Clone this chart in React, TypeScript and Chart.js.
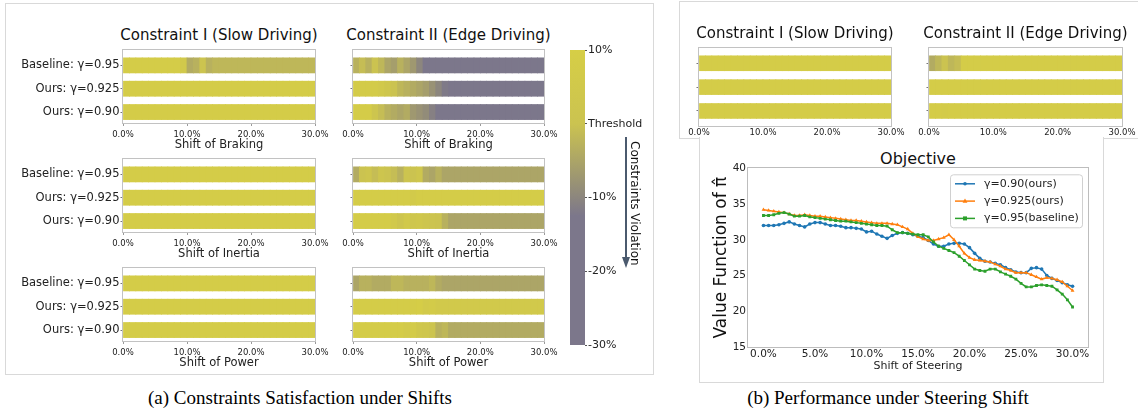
import React, { useEffect, useRef } from 'react';
import { Chart, registerables } from 'chart.js';

Chart.register(...registerables);
Chart.defaults.font.family = 'DejaVu Sans';
Chart.defaults.color = '#222';

// ---------------- DATA ----------------
const ROW_LABELS = ['Baseline: γ=0.95', 'Ours: γ=0.925', 'Ours: γ=0.90'];
const STRIP_TICKS = [0, 10, 20, 30];
const SHIFT_BINS = [0, 1, 2, 3, 4, 5, 6, 7, 8, 9, 10, 11, 12, 13, 14, 15, 16, 17, 18, 19, 20, 21, 22, 23, 24, 25, 26, 27, 28, 29];
const BIN_WIDTH = 1;

// constraint margin (%) per 1% shift bin; >0 satisfied, <0 violated
const SAFE_ROW = [8, 8, 8, 8, 8, 8, 8, 8, 8, 8, 8, 8, 8, 8, 8, 8, 8, 8, 8, 8, 8, 8, 8, 8, 8, 8, 8, 8, 8, 8];
const BRAKING_I_BASE = [8, 8, 8, 8, 8, 8, 8, 8, 8, 5, -4, -3, 1, -3, -2, -2, -2, -2, -2, -2, -2, -2, -2, -2, -2, -2, -2, -2, -2, -2];
const BRAKING_II_BASE = [-3, -1, -3, 0, -2, -5, -6, -3, -5, -7, -10, -20, -20, -20, -20, -20, -20, -20, -20, -20, -20, -20, -20, -20, -20, -20, -20, -20, -20, -20];
const BRAKING_II_925 = [7, 7, 7, 7, 5, 3, 0, -2, -3, -4, -5, -6, -8, -10, -12, -20, -20, -20, -20, -20, -20, -20, -20, -20, -20, -20, -20, -20, -20, -20];
const BRAKING_II_90 = [8, 8, 8, 2, -1, -3, -4, -5, -4, -7, -8, -9, -11, -20, -20, -20, -20, -20, -20, -20, -20, -20, -20, -20, -20, -20, -20, -20, -20, -20];
const INERTIA_II_BASE = [-4, 0, 2, -1, 2, 0, -1, -3, 1, 0, 3, -4, -5, -3, -5, -5, -5, -5, -5, -5, -5, -5, -5, -5, -5, -5, -5, -5, -5, -5];
const INERTIA_II_925 = [8, 8, 8, 8, 8, 8, 8, 8, 8, 6, 8, 8, 8, 8, 8, 8, 8, 8, 8, 8, 8, 8, 8, 8, 8, 8, 8, 8, 8, 8];
const INERTIA_II_90 = [8, 8, 8, 8, 8, 8, 5, 2, 5, 3, 4, 2, 1, 0, -3, -5, -5, -5, -5, -5, -5, -5, -5, -5, -5, -5, -5, -5, -5, -5];
const POWER_II_BASE = [-5, -3, -3, -4, -4, -4, -2, -2, -3, -3, -3, -3, -2, -4, -5, -5, -5, -5, -5, -5, -5, -5, -5, -5, -5, -5, -5, -5, -5, -5];
const POWER_II_925 = [8, 8, 8, 8, 8, 8, 8, 8, 8, 8, 9, 6, 7, 5, 5, 5, 5, 5, 5, 5, 5, 5, 5, 5, 5, 5, 5, 5, 5, 5];
const POWER_II_90 = [8, 8, 8, 8, 8, 8, 8, 8, 6, 7, 4, 3, 1, -3, -2, -4, -4, -4, -4, -4, -4, -4, -4, -4, -4, -4, -4, -4, -4, -4];
const STEER_II_BASE = [-4, -2, 0, -2, -1, 8, 8, 8, 8, 8, 8, 8, 8, 8, 8, 8, 8, 8, 8, 8, 8, 8, 8, 8, 8, 8, 8, 8, 8, 8];
const STEER_II_90 = [8, 8, 7, 8, 8, 8, 8, 8, 8, 8, 8, 8, 8, 8, 8, 8, 8, 8, 8, 8, 8, 8, 8, 8, 8, 8, 8, 8, 8, 8];

const CBAR_MIN = -30;
const CBAR_MAX = 10;
const CBAR_TICKS = [10, 0, -10, -20, -30];

const STEER_SHIFT = [0, 0.5, 1, 1.5, 2, 2.5, 3, 3.5, 4, 4.5, 5, 5.5, 6, 6.5, 7, 7.5, 8, 8.5, 9, 9.5, 10, 10.5, 11, 11.5, 12, 12.5, 13, 13.5, 14, 14.5, 15, 15.5, 16, 16.5, 17, 17.5, 18, 18.5, 19, 19.5, 20, 20.5, 21, 21.5, 22, 22.5, 23, 23.5, 24, 24.5, 25, 25.5, 26, 26.5, 27, 27.5, 28, 28.5, 29, 29.5, 30];
const STEER_TICKS = [0, 5, 10, 15, 20, 25, 30];
const VF_TICKS = [15, 20, 25, 30, 35, 40];
const VF_090 = [32.0, 32.0, 32.0, 32.1, 32.3, 32.5, 32.2, 32.0, 31.8, 32.2,
  32.4, 32.4, 32.2, 32.0, 32.0, 31.9, 31.7, 31.7, 31.6, 31.5,
  31.1, 31.2, 30.8, 30.5, 30.2, 30.6, 30.9, 31.0, 30.9, 30.7,
  30.5, 30.3, 29.9, 29.4, 29.1, 29.1, 29.4, 29.5, 29.5, 29.4,
  28.9, 28.1, 27.4, 27.0, 26.9, 26.7, 26.5, 26.1, 25.8, 25.5,
  25.4, 25.4, 26.0, 26.1, 25.9, 25.0, 24.6, 24.3, 24.0, 23.7, 23.5];
const VF_0925 = [34.2, 34.1, 34.0, 33.9, 33.8, 33.6, 33.4, 33.4, 33.5, 33.4,
  33.3, 33.3, 33.2, 33.1, 33.0, 32.9, 32.8, 32.7, 32.7, 32.6,
  32.5, 32.4, 32.3, 32.3, 32.3, 32.2, 32.1, 31.8, 31.5, 30.9,
  30.4, 30.1, 29.9, 29.9, 30.1, 30.3, 30.7, 30.0, 29.1, 28.1,
  27.5, 27.2, 27.1, 27.0, 26.9, 26.6, 26.3, 25.9, 25.7, 25.4,
  25.4, 25.4, 25.1, 24.8, 24.5, 24.7, 24.6, 24.4, 24.1, 23.5, 22.9];
const VF_095 = [33.4, 33.4, 33.5, 33.7, 33.8, 33.6, 33.3, 33.3, 33.4, 33.2,
  33.1, 33.0, 32.9, 32.8, 32.7, 32.6, 32.6, 32.5, 32.4, 32.3,
  32.2, 32.1, 32.0, 32.0, 31.9, 31.4, 31.0, 31.0, 30.9, 30.8,
  30.7, 30.7, 30.4, 29.7, 29.1, 28.8, 28.5, 28.2, 27.7, 27.1,
  26.5, 25.9, 25.7, 25.6, 25.9, 25.9, 25.5, 25.2, 24.9, 24.5,
  23.9, 23.4, 23.4, 23.6, 23.7, 23.6, 23.5, 23.0, 22.4, 21.6, 20.6];

// ---------------- STYLE HELPERS ----------------
const CMAP_STOPS: [number, number[]][] = [
  [-30, [124, 119, 139]],
  [-12.5, [124, 119, 139]],
  [-10, [140, 134, 126]],
  [0, [203, 195, 80]],
  [10, [214, 206, 70]],
];

function cmap(v: number): string {
  const s = CMAP_STOPS;
  if (v <= s[0][0]) return `rgb(${s[0][1].join(',')})`;
  for (let i = 1; i < s.length; i++) {
    if (v <= s[i][0]) {
      const t = (v - s[i - 1][0]) / (s[i][0] - s[i - 1][0]);
      const c = s[i - 1][1].map((a, k) => Math.round(a + (s[i][1][k] - a) * t));
      return `rgb(${c.join(',')})`;
    }
  }
  return `rgb(${s[s.length - 1][1].join(',')})`;
}

const framePlugin = {
  id: 'frame',
  afterDatasetsDraw(chart: any, _a: any, opts: any) {
    const { ctx, chartArea: a } = chart;
    ctx.save();
    ctx.strokeStyle = (opts && opts.color) || '#bdbdbd';
    ctx.lineWidth = 1;
    const l = Math.round(a.left) - 0.5;
    const t = Math.round(a.top) - 0.5;
    ctx.strokeRect(l, t, Math.round(a.right) + 0.5 - l, Math.round(a.bottom) + 0.5 - t);
    ctx.restore();
  },
};

function drawMarker(ctx: CanvasRenderingContext2D, style: string, x: number, y: number, r: number) {
  ctx.beginPath();
  if (style === 'triangle') {
    ctx.moveTo(x, y - r * 1.2);
    ctx.lineTo(x + r * 1.1, y + r * 0.8);
    ctx.lineTo(x - r * 1.1, y + r * 0.8);
    ctx.closePath();
  } else if (style === 'rect') {
    ctx.rect(x - r, y - r, 2 * r, 2 * r);
  } else {
    ctx.arc(x, y, r, 0, Math.PI * 2);
  }
  ctx.fill();
}

const legendPlugin = {
  id: 'mplLegend',
  afterDatasetsDraw(chart: any) {
    const { ctx, chartArea } = chart;
    const w = 132;
    const h = 53;
    const x0 = chartArea.right - 6 - w;
    const y0 = chartArea.top + 6;
    ctx.save();
    ctx.fillStyle = 'rgba(255,255,255,0.85)';
    ctx.strokeStyle = '#d0d0d0';
    ctx.lineWidth = 1;
    ctx.beginPath();
    (ctx as any).roundRect(x0 + 0.5, y0 + 0.5, w, h, 3);
    ctx.fill();
    ctx.stroke();
    chart.data.datasets.forEach((ds: any, i: number) => {
      const y = y0 + 9.5 + i * 17.3;
      ctx.strokeStyle = ds.borderColor;
      ctx.fillStyle = ds.borderColor;
      ctx.lineWidth = ds.borderWidth;
      ctx.beginPath();
      ctx.moveTo(x0 + 5, y);
      ctx.lineTo(x0 + 25, y);
      ctx.stroke();
      drawMarker(ctx, ds.pointStyle, x0 + 15, y, ds.pointRadius);
      ctx.fillStyle = '#222';
      ctx.font = '11px "DejaVu Sans"';
      ctx.textBaseline = 'middle';
      ctx.textAlign = 'left';
      ctx.fillText(ds.label, x0 + 34, y);
    });
    ctx.restore();
  },
};

type StripOpts = {
  rowLabels: boolean;
  xTitle?: string;
  yAxisWidth: number;
  xAxisHeight: number;
  padRight: number;
  yMin: number;
  yMax: number;
  barThickness: number;
  tickLen: number;
  tickPad: number;
};

function stripConfig(rows: number[][], o: StripOpts): any {
  const data: any[] = [];
  const colors: string[] = [];
  rows.forEach((row, r) =>
    row.forEach((v, i) => {
      data.push({ x: [SHIFT_BINS[i], SHIFT_BINS[i] + BIN_WIDTH], y: r });
      colors.push(cmap(v));
    })
  );
  return {
    type: 'bar',
    data: {
      datasets: [
        {
          data,
          backgroundColor: colors,
          borderWidth: 0,
          barThickness: o.barThickness,
          inflateAmount: 0.4,
        },
      ],
    },
    options: {
      indexAxis: 'y',
      responsive: false,
      animation: false,
      events: [],
      layout: { padding: { left: 0, right: o.padRight, top: 8, bottom: 0 } },
      plugins: { legend: { display: false }, tooltip: { enabled: false }, frame: { color: '#c2c2c2' } },
      scales: {
        x: {
          type: 'linear',
          min: 0,
          max: 30,
          offset: false,
          afterBuildTicks: (s: any) => {
            s.ticks = STRIP_TICKS.map((v) => ({ value: v }));
          },
          afterFit: (s: any) => {
            s.height = o.xAxisHeight;
          },
          ticks: {
            font: { size: 8.5 },
            color: '#222',
            padding: o.tickPad,
            maxRotation: 0,
            autoSkip: false,
            callback: (v: any) => `${Number(v).toFixed(1)}%`,
          },
          grid: { display: true, offset: false, drawOnChartArea: false, drawTicks: o.tickLen > 0, tickLength: o.tickLen, color: '#9a9a9a' },
          border: { display: false },
          title: {
            display: !!o.xTitle,
            text: o.xTitle || '',
            font: { size: 11.5 },
            color: '#222',
            padding: { top: 0, bottom: 0 },
          },
        },
        y: {
          type: 'linear',
          reverse: true,
          offset: false,
          min: o.yMin,
          max: o.yMax,
          afterBuildTicks: (s: any) => {
            s.ticks = [0, 1, 2].map((v) => ({ value: v }));
          },
          afterFit: (s: any) => {
            s.width = o.yAxisWidth;
          },
          ticks: {
            font: { size: 11.5 },
            color: '#222',
            padding: 1,
            autoSkip: false,
            callback: (v: any) => (o.rowLabels ? ROW_LABELS[v] : ''),
          },
          grid: { display: true, offset: false, drawOnChartArea: false, drawTicks: true, tickLength: 2.5, color: '#777' },
          border: { display: false },
        },
      },
    },
    plugins: [framePlugin],
  };
}

function colorbarConfig(): any {
  return {
    type: 'bar',
    data: {
      labels: [''],
      datasets: [
        {
          data: [[CBAR_MIN, CBAR_MAX]],
          borderWidth: 0,
          barPercentage: 1,
          categoryPercentage: 1,
          backgroundColor: (c: any) => {
            const chart = c.chart;
            const a = chart.chartArea;
            if (!a) return '#ccc';
            const g = chart.ctx.createLinearGradient(0, a.bottom, 0, a.top);
            CMAP_STOPS.forEach(([v, rgb]) => {
              g.addColorStop((v - CBAR_MIN) / (CBAR_MAX - CBAR_MIN), `rgb(${rgb.join(',')})`);
            });
            return g;
          },
        },
      ],
    },
    options: {
      responsive: false,
      animation: false,
      events: [],
      layout: { padding: { left: 5, right: 0, top: 10, bottom: 10 } },
      plugins: { legend: { display: false }, tooltip: { enabled: false } },
      scales: {
        x: { display: false },
        y: {
          position: 'right',
          min: CBAR_MIN,
          max: CBAR_MAX,
          afterBuildTicks: (s: any) => {
            s.ticks = CBAR_TICKS.map((v) => ({ value: v }));
          },
          afterFit: (s: any) => {
            s.width = 60;
          },
          ticks: {
            font: { size: 11 },
            color: '#222',
            padding: 1,
            callback: (v: any) => (Number(v) === 0 ? 'Threshold' : `${v}%`),
          },
          grid: { display: true, drawOnChartArea: false, drawTicks: true, tickLength: 2, color: '#555' },
          border: { display: false },
        },
      },
    },
  };
}

function objectiveConfig(): any {
  const mk = (label: string, ys: number[], color: string, style: string, r: number, order: number) => ({
    label,
    data: STEER_SHIFT.map((x, i) => ({ x, y: ys[i] })),
    borderColor: color,
    backgroundColor: color,
    borderWidth: 1.5,
    pointStyle: style,
    pointRadius: r,
    pointBorderWidth: 0,
    pointBackgroundColor: color,
    tension: 0,
    order,
  });
  return {
    type: 'line',
    data: {
      datasets: [
        mk('γ=0.90(ours)', VF_090, '#1f77b4', 'circle', 1.8, 2),
        mk('γ=0.925(ours)', VF_0925, '#ff7f0e', 'triangle', 2.2, 1),
        mk('γ=0.95(baseline)', VF_095, '#2ca02c', 'rect', 2.0, 0),
      ],
    },
    options: {
      responsive: false,
      animation: false,
      events: [],
      layout: { padding: { left: 0, right: 10, top: 7, bottom: 0 } },
      plugins: { legend: { display: false }, tooltip: { enabled: false }, frame: { color: '#bdbdbd' } },
      scales: {
        x: {
          type: 'linear',
          min: -1.5,
          max: 31.5,
          afterBuildTicks: (s: any) => {
            s.ticks = STEER_TICKS.map((v) => ({ value: v }));
          },
          afterFit: (s: any) => {
            s.height = 28;
          },
          ticks: {
            font: { size: 10.5 },
            color: '#222',
            padding: 1,
            maxRotation: 0,
            autoSkip: false,
            callback: (v: any) => `${Number(v).toFixed(1)}%`,
          },
          grid: { display: false, drawTicks: false },
          border: { display: false },
          title: {
            display: true,
            text: 'Shift of Steering',
            font: { size: 11 },
            color: '#222',
            padding: { top: 0, bottom: 2 },
          },
        },
        y: {
          type: 'linear',
          min: 15,
          max: 40,
          afterBuildTicks: (s: any) => {
            s.ticks = VF_TICKS.map((v) => ({ value: v }));
          },
          afterFit: (s: any) => {
            s.width = 48;
          },
          ticks: { font: { size: 10.5 }, color: '#222', padding: 2 },
          grid: { display: false, drawTicks: false },
          border: { display: false },
          title: {
            display: true,
            text: 'Value Function of π̂',
            font: { size: 17 },
            color: '#111',
            padding: { top: 11.5, bottom: 0 },
          },
        },
      },
    },
    plugins: [framePlugin, legendPlugin],
  };
}

// ---------------- COMPONENTS ----------------
function ChartCanvas(props: { left: number; top: number; width: number; height: number; make: () => any }) {
  const ref = useRef<HTMLCanvasElement>(null);
  useEffect(() => {
    const chart = new Chart(ref.current as HTMLCanvasElement, props.make());
    return () => chart.destroy();
  }, []);
  return (
    <canvas
      ref={ref}
      width={props.width}
      height={props.height}
      style={{ position: 'absolute', left: props.left, top: props.top, width: props.width, height: props.height }}
    />
  );
}

function Label(props: { cx: number; cy: number; size: number; text: string; family?: string; color?: string }) {
  const lh = Math.round(props.size * 1.3);
  return (
    <div
      style={{
        position: 'absolute',
        left: props.cx - 250,
        width: 500,
        top: props.cy - lh / 2,
        height: lh,
        lineHeight: `${lh}px`,
        textAlign: 'center',
        fontFamily: props.family || '"DejaVu Sans"',
        fontSize: props.size,
        color: props.color || '#111',
        whiteSpace: 'nowrap',
      }}
    >
      {props.text}
    </div>
  );
}

const A_STRIP = { yMin: -0.66, yMax: 2.47, barThickness: 15, xAxisHeight: 29, tickLen: 3, tickPad: 4 };
const B_STRIP = { yMin: -0.64, yMax: 2.63, barThickness: 14.8, xAxisHeight: 14, tickLen: 0, tickPad: 2 };

export default function App() {
  const groups = [
    { top: 50, xTitle: 'Shift of Braking', c1: [BRAKING_I_BASE, SAFE_ROW, SAFE_ROW], c2: [BRAKING_II_BASE, BRAKING_II_925, BRAKING_II_90] },
    { top: 159, xTitle: 'Shift of Inertia', c1: [SAFE_ROW, SAFE_ROW, SAFE_ROW], c2: [INERTIA_II_BASE, INERTIA_II_925, INERTIA_II_90] },
    { top: 268, xTitle: 'Shift of Power', c1: [SAFE_ROW, SAFE_ROW, SAFE_ROW], c2: [POWER_II_BASE, POWER_II_925, POWER_II_90] },
  ];
  return (
    <div style={{ position: 'absolute', left: 0, top: 0, width: 1138, height: 413, background: '#fff', overflow: 'hidden' }}>
      {/* panel frames */}
      <div style={{ position: 'absolute', left: 5, top: 3, width: 649, height: 372, border: '1px solid #d9d9d9', boxSizing: 'border-box' }} />
      <div style={{ position: 'absolute', left: 679, top: 1, width: 480, height: 138, border: '1px solid #d9d9d9', boxSizing: 'border-box' }} />
      <div
        style={{
          position: 'absolute',
          left: 699,
          top: 137,
          width: 405,
          height: 246,
          borderLeft: '1px solid #d9d9d9',
          borderRight: '1px solid #d9d9d9',
          borderBottom: '1px solid #d9d9d9',
          background: '#fff',
          boxSizing: 'border-box',
        }}
      />

      {/* panel (a) titles */}
      <Label cx={219} cy={35} size={15} text="Constraint I (Slow Driving)" />
      <Label cx={448.5} cy={35} size={15} text="Constraint II (Edge Driving)" />

      {groups.map((g, k) => (
        <React.Fragment key={k}>
          <ChartCanvas
            left={3}
            top={g.top - 8}
            width={334}
            height={110}
            make={() => stripConfig(g.c1, { ...A_STRIP, rowLabels: true, xTitle: g.xTitle, yAxisWidth: 120, padRight: 22 })}
          />
          <ChartCanvas
            left={333}
            top={g.top - 8}
            width={233}
            height={110}
            make={() => stripConfig(g.c2, { ...A_STRIP, rowLabels: false, xTitle: g.xTitle, yAxisWidth: 20, padRight: 22 })}
          />
        </React.Fragment>
      ))}

      {/* colorbar */}
      <ChartCanvas left={565} top={40} width={80} height={315} make={colorbarConfig} />
      <div style={{ position: 'absolute', left: 625, top: 137, width: 2, height: 122, background: '#4b5a6e' }} />
      <div
        style={{
          position: 'absolute',
          left: 622,
          top: 257,
          width: 0,
          height: 0,
          borderLeft: '4px solid transparent',
          borderRight: '4px solid transparent',
          borderTop: '11px solid #4b5a6e',
        }}
      />
      <div
        style={{
          position: 'absolute',
          left: 628,
          top: 141,
          writingMode: 'vertical-rl',
          fontFamily: '"DejaVu Sans"',
          fontSize: 12,
          lineHeight: '14px',
          color: '#111',
          whiteSpace: 'nowrap',
        }}
      >
        Constraints Violation
      </div>

      {/* panel (b) top strips */}
      <Label cx={795} cy={33} size={15} text="Constraint I (Slow Driving)" />
      <Label cx={1025.5} cy={33} size={15} text="Constraint II (Edge Driving)" />
      <ChartCanvas
        left={679}
        top={40}
        width={232}
        height={100}
        make={() => stripConfig([SAFE_ROW, SAFE_ROW, SAFE_ROW], { ...B_STRIP, rowLabels: false, yAxisWidth: 20, padRight: 20 })}
      />
      <ChartCanvas
        left={909}
        top={40}
        width={229}
        height={100}
        make={() => stripConfig([STEER_II_BASE, SAFE_ROW, STEER_II_90], { ...B_STRIP, rowLabels: false, yAxisWidth: 20, padRight: 16 })}
      />

      {/* objective */}
      <Label cx={918} cy={158} size={16} text="Objective" />
      <ChartCanvas left={700} top={160} width={398} height={215} make={objectiveConfig} />

      {/* captions */}
      <Label cx={300} cy={397} size={19} family='"Liberation Serif"' color="#000" text="(a) Constraints Satisfaction under Shifts" />
      <Label cx={888} cy={397} size={19} family='"Liberation Serif"' color="#000" text="(b) Performance under Steering Shift" />
    </div>
  );
}
